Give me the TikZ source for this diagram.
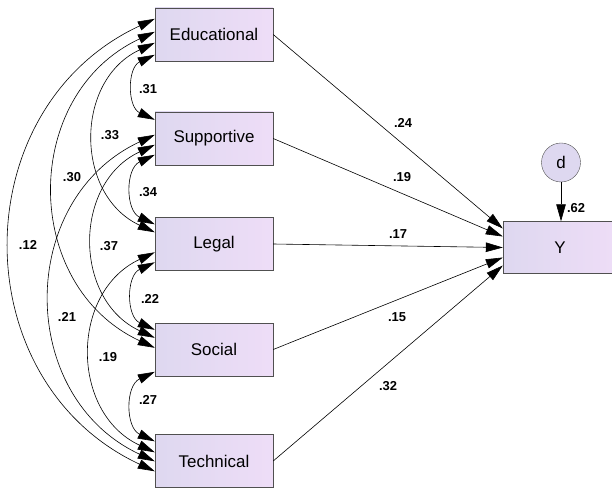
\documentclass[tikz,border=0pt]{standalone}
\usepackage{fontspec}
\setmainfont{Liberation Sans}
\usetikzlibrary{arrows.meta}
\definecolor{boxleft}{RGB}{222,216,240}
\definecolor{boxright}{RGB}{238,221,247}
\definecolor{boxline}{RGB}{80,80,80}
\tikzset{
  varbox/.style={draw=boxline, left color=boxleft, right color=boxright, minimum width=118bp, minimum height=53bp, inner sep=0pt, font=\fontsize{17}{20}\selectfont},
  errcircle/.style={circle, draw=boxline, fill=boxleft, minimum size=39bp, inner sep=0pt, font=\fontsize{17}{20}\selectfont},
  coef/.style={inner sep=0pt, font=\fontsize{13}{15}\selectfont\bfseries},
  effect/.style={->, line width=0.6bp},
  cov/.style={<->, line width=0.6bp, bend right=65, looseness=1.2},
}
\begin{document}
\begin{tikzpicture}[x=1bp, y=-1bp, >={Triangle[length=17bp,width=9.5bp]}]
  \useasboundingbox (0,0) rectangle (612,488);
  % Draw the variables
  \node[varbox] (edu) at (214,34.5) {Educational};
  \node[varbox] (sup) at (214,138.5) {Supportive};
  \node[varbox] (leg) at (214,244) {Legal};
  \node[varbox] (soc) at (214,349.5) {Social};
  \node[varbox] (tec) at (214,461) {Technical};
  \node[varbox, minimum width=114bp, minimum height=52bp] (y) at (560,247.5) {Y};
  \node[errcircle] (d) at (561,162.5) {d};
  % Draw the paths to Y
  \draw[effect] (edu.east) -- ([yshift=19bp]y.west);
  \draw[effect] (sup.east) -- ([yshift=11bp]y.west);
  \draw[effect] (leg.east) -- (y.west);
  \draw[effect] (soc.east) -- ([yshift=-10bp]y.west);
  \draw[effect] (tec.east) -- ([yshift=-18bp]y.west);
  \draw[effect] (d.south) -- (d.south |- y.north);
  \node[coef] (p1) at (403,123) {.24};
  \node[coef] (p2) at (402,177) {.19};
  \node[coef] (p3) at (398,234) {.17};
  \node[coef] (p4) at (397,317) {.15};
  \node[coef] (p5) at (388,386) {.32};
  \node[coef] (pd) at (576,208) {.62};
  % Draw the covariances
  \draw[cov] ([yshift=-47bp]edu.north west) to ([yshift=-8bp]sup.north west);
  \draw[cov] ([yshift=-35bp]edu.north west) to ([yshift=-15bp]leg.north west);
  \draw[cov] ([yshift=-24bp]edu.north west) to ([yshift=-25bp]soc.north west);
  \draw[cov] ([yshift=-11bp]edu.north west) to ([yshift=-37bp]tec.north west);
  \draw[cov] ([yshift=-43bp]sup.north west) to ([yshift=-7bp]leg.north west);
  \draw[cov] ([yshift=-33bp]sup.north west) to ([yshift=-15bp]soc.north west);
  \draw[cov] ([yshift=-23bp]sup.north west) to ([yshift=-27bp]tec.north west);
  \draw[cov] ([yshift=-45bp]leg.north west) to ([yshift=-7bp]soc.north west);
  \draw[cov] ([yshift=-35bp]leg.north west) to ([yshift=-18bp]tec.north west);
  \draw[cov] ([yshift=-49bp]soc.north west) to ([yshift=-7bp]tec.north west);
  \node[coef] (c1) at (148,89) {.31};
  \node[coef] (c2) at (110,135) {.33};
  \node[coef] (c3) at (72,177) {.30};
  \node[coef] (c4) at (28,245) {.12};
  \node[coef] (c5) at (148,192) {.34};
  \node[coef] (c6) at (109,246) {.37};
  \node[coef] (c7) at (67,317) {.21};
  \node[coef] (c8) at (150,299) {.22};
  \node[coef] (c9) at (108,357) {.19};
  \node[coef] (c10) at (148,400) {.27};
\end{tikzpicture}
\end{document}
